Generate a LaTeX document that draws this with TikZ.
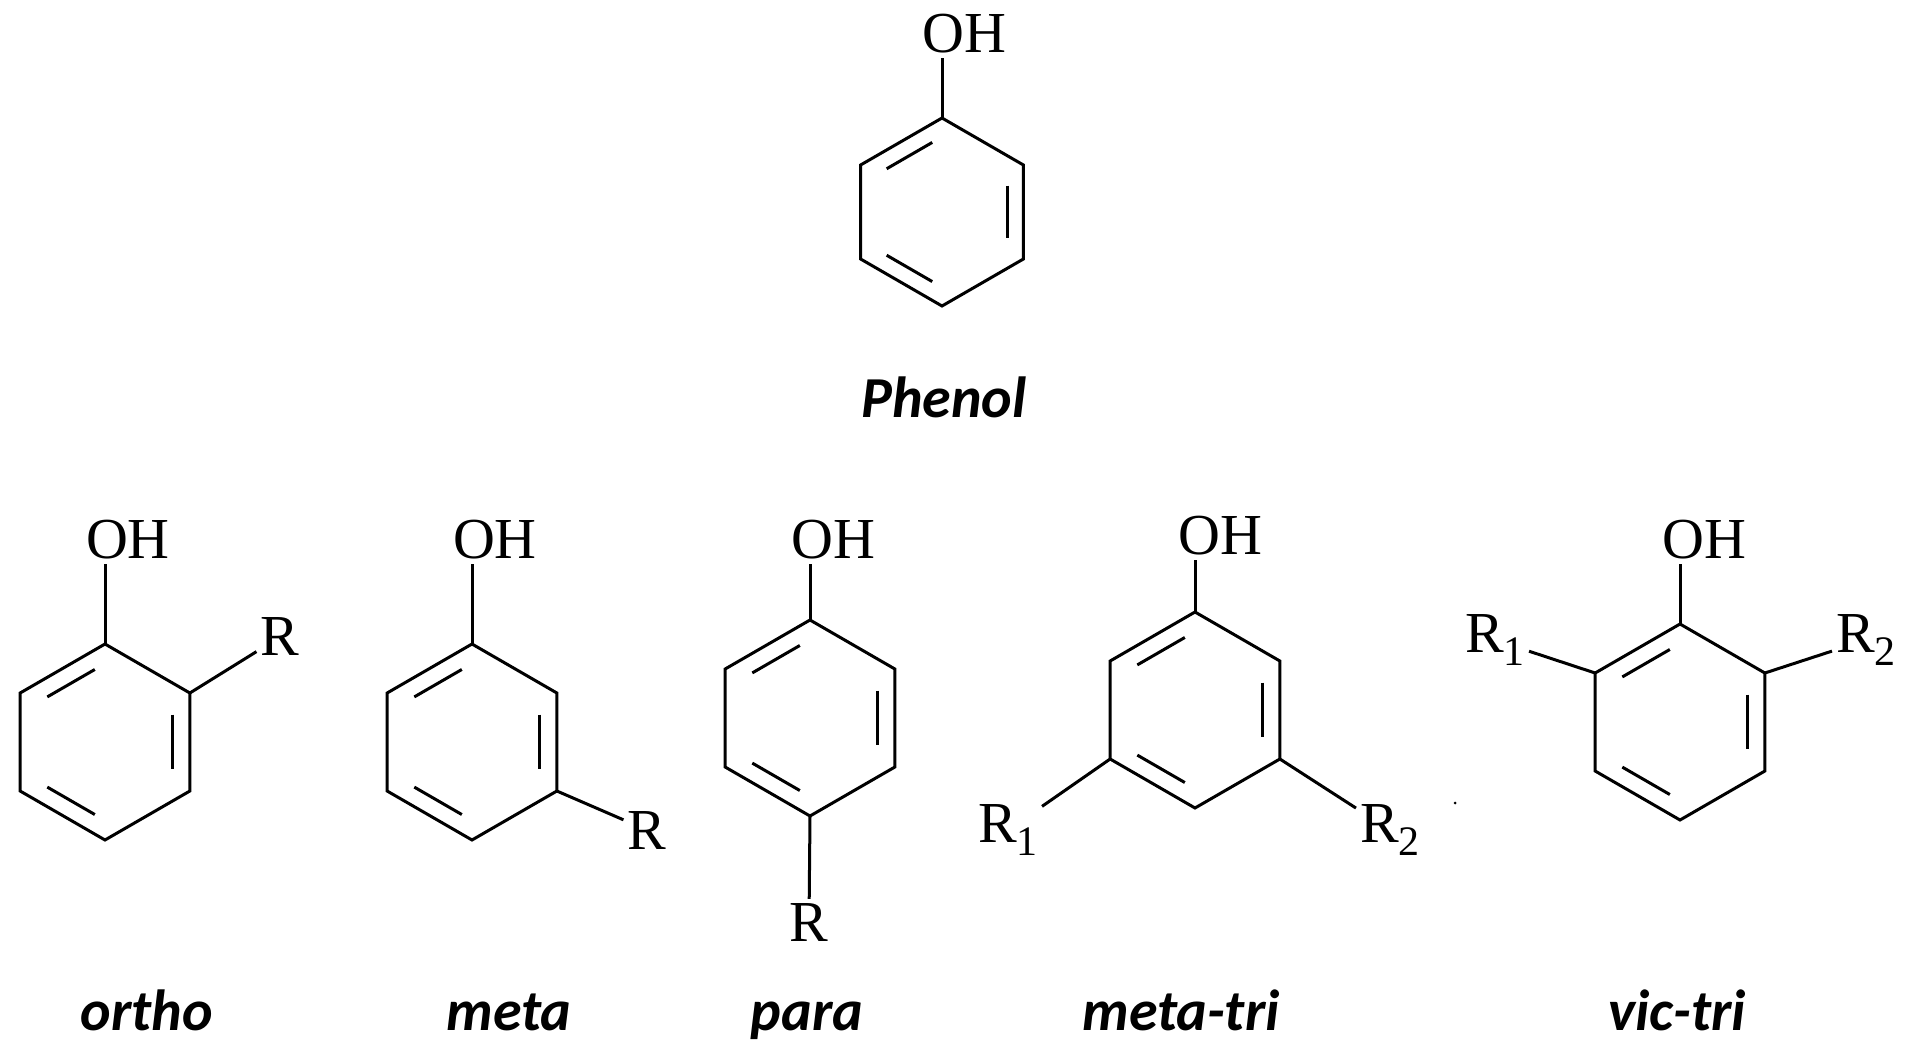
\documentclass[tikz,border=0pt]{standalone}
\usepackage{fontspec}
\setmainfont{Liberation Serif}
\newfontfamily\lblfont{Carlito}
\usetikzlibrary{calc}
\tikzset{
  bond/.style={line width=3pt},
  atom/.style={font=\fontsize{58}{58}\selectfont, inner sep=4pt},
  lbl/.style={font=\lblfont\fontsize{58}{58}\selectfont\bfseries\itshape, inner sep=0pt, anchor=base}
}
\newcommand\sbs[1]{\raisebox{-13pt}{\fontsize{42}{42}\selectfont #1}}
\newcommand\benz[4]{% name, cx, cy, r
  \coordinate (#1c) at (#2,#3);
  \coordinate (#1t) at ($(#1c)+(0,-#4)$);
  \coordinate (#1b) at ($(#1c)+(0,#4)$);
  \coordinate (#1ul) at ($(#1c)+({-0.866*#4},{-0.5*#4})$);
  \coordinate (#1ll) at ($(#1c)+({-0.866*#4},{0.5*#4})$);
  \coordinate (#1ur) at ($(#1c)+({0.866*#4},{-0.5*#4})$);
  \coordinate (#1lr) at ($(#1c)+({0.866*#4},{0.5*#4})$);
  \draw[bond, line join=miter] (#1t) -- (#1ur) -- (#1lr) -- (#1b) -- (#1ll) -- (#1ul) -- cycle;
  \draw[bond] ($(#1c)!0.8!($(#1t)!0.15!(#1ul)$)$) -- ($(#1c)!0.8!($(#1t)!0.85!(#1ul)$)$);
  \draw[bond] ($(#1c)!0.8!($(#1ur)!0.15!(#1lr)$)$) -- ($(#1c)!0.8!($(#1ur)!0.85!(#1lr)$)$);
  \draw[bond] ($(#1c)!0.8!($(#1ll)!0.15!(#1b)$)$) -- ($(#1c)!0.8!($(#1ll)!0.85!(#1b)$)$);
}
\begin{document}
\begin{tikzpicture}[x=1pt,y=-1pt]
\useasboundingbox (0,0) rectangle (1913,1057);
% Phenol
\benz{p}{942}{212}{94}
\node[atom] (pOH) at (964,34) {OH};
\draw[bond] (pt) -- (pt |- pOH.south);
\node[lbl] (pL) at (944,417) {Phenol};
% ortho
\benz{o}{105}{742}{98}
\node[atom] (oOH) at (128,540) {OH};
\node[atom] (oR) at (280,637) {R};
\draw[bond] (ot) -- (ot |- oOH.south);
\draw[bond] (our) -- (oR);
\node[lbl] (oL) at (147,1030) {ortho};
% meta
\benz{m}{472}{742}{98}
\node[atom] (mOH) at (495,540) {OH};
\node[atom] (mR) at (647,830) {R};
\draw[bond] (mt) -- (mt |- mOH.south);
\draw[bond] (mlr) -- (mR);
\node[lbl] (mL) at (509,1030) {meta};
% para
\benz{a}{810}{718}{98}
\node[atom] (aOH) at (833,540) {OH};
\node[atom] (aR) at (809,922) {R};
\draw[bond] (at) -- (at |- aOH.south);
\draw[bond] (ab) -- (aR);
\node[lbl] (aL) at (807,1030) {para};
% meta-tri
\benz{t}{1195}{710}{98}
\node[atom] (tOH) at (1220,536) {OH};
\node[atom] (tR1) at (1008,830) {R\sbs{1}};
\node[atom] (tR2) at (1390,830) {R\sbs{2}};
\draw[bond] (tt) -- (tt |- tOH.south);
\draw[bond] (tll) -- (tR1);
\draw[bond] (tlr) -- (tR2);
\node[lbl] (tL) at (1181,1030) {meta-tri};
% vic-tri
\benz{v}{1680}{722}{98}
\node[atom] (vOH) at (1704,540) {OH};
\node[atom] (vR1) at (1495,640) {R\sbs{1}};
\node[atom] (vR2) at (1866,640) {R\sbs{2}};
\draw[bond] (vt) -- (vt |- vOH.south);
\draw[bond] (vul) -- (vR1);
\draw[bond] (vur) -- (vR2);
\node[lbl] (vL) at (1677,1030) {vic-tri};
\fill (1455,803) circle (1.5);
\end{tikzpicture}
\end{document}
